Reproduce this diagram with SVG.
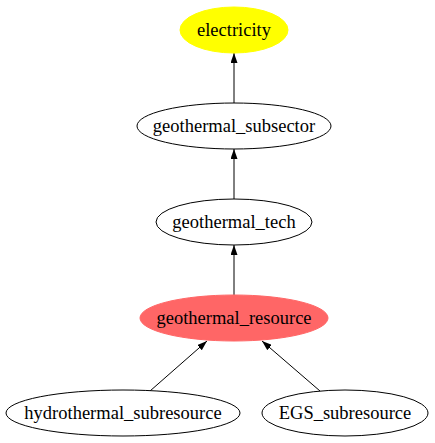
<svg xmlns="http://www.w3.org/2000/svg" width="435" height="443" viewBox="0 0 435 443">
<style>
  .n { stroke: #000; stroke-width: 1; fill: #fff; }
  .y { fill: #ffff00; stroke: #ffff00; stroke-width: 1; }
  .r { fill: #ff6666; stroke: #ff6666; stroke-width: 1; }
  .t { font-size: 18.5px; text-anchor: middle; fill: #000; }
  .edge { stroke: #000; stroke-width: 1; fill: none; }
</style>
<defs>
  <marker id="arr" viewBox="0 0 10 7" refX="10" refY="3.5" markerWidth="10" markerHeight="7" markerUnits="userSpaceOnUse" orient="auto">
    <path d="M0,0 L10,3.5 L0,7 Z" fill="#000"/>
  </marker>
</defs>
<rect width="435" height="443" fill="#fff"/>
<g id="edges">
  <path class="edge" d="M234,103 L234,53" marker-end="url(#arr)"/>
  <path class="edge" d="M234,199 L234,149" marker-end="url(#arr)"/>
  <path class="edge" d="M234,295 L234,245" marker-end="url(#arr)"/>
  <path class="edge" d="M150,391 L207,341" marker-end="url(#arr)"/>
  <path class="edge" d="M320,391 L262,341" marker-end="url(#arr)"/>
</g>
<g font-family="Liberation Serif, Times New Roman, serif">
<g id="electricity">
  <ellipse class="y" cx="234" cy="30" rx="54" ry="23"/>
  <text class="t" x="234" y="36">electricity</text>
</g>
<g id="geothermal_subsector">
  <ellipse class="n" cx="234" cy="126" rx="97" ry="23"/>
  <text class="t" x="234" y="132">geothermal_subsector</text>
</g>
<g id="geothermal_tech">
  <ellipse class="n" cx="234" cy="222" rx="78" ry="23"/>
  <text class="t" x="234" y="228">geothermal_tech</text>
</g>
<g id="geothermal_resource">
  <ellipse class="r" cx="234" cy="318" rx="94" ry="23"/>
  <text class="t" x="234" y="324">geothermal_resource</text>
</g>
<g id="hydrothermal_subresource">
  <ellipse class="n" cx="123" cy="413" rx="117" ry="23"/>
  <text class="t" x="123" y="419">hydrothermal_subresource</text>
</g>
<g id="EGS_subresource">
  <ellipse class="n" cx="345" cy="413" rx="83" ry="23"/>
  <text class="t" x="345" y="419">EGS_subresource</text>
</g>
</g>
</svg>
